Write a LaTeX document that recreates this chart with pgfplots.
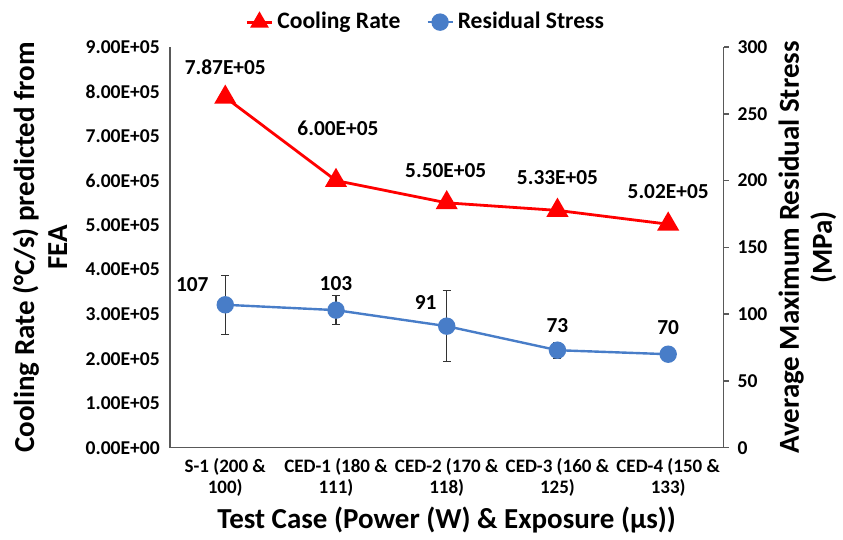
\documentclass[border=0pt]{standalone}
\usepackage{pgfplots}
\pgfplotsset{compat=1.18}
\usepackage{fontspec}
\setmainfont{Carlito}
\definecolor{stressblue}{RGB}{72,125,200}
\definecolor{axisgray}{RGB}{89,89,89}

\pgfplotstableread{
x y lbl dx dy
0 787000 7.87E+05 0.0 15.0
1 600000 6.00E+05 1.0 26.0
2 550000 5.50E+05 -0.5 16.0
3 533000 5.33E+05 0.0 16.5
4 502000 5.02E+05 0.0 16.5
}\coolingdata

\pgfplotstableread{
x y err lbl dx dy
0 107 22 107 -16.5 10.0
1 103 11 103 0.0 13.5
2 91 26.5 91 -10.5 12.0
3 73 6 73 0.0 12.5
4 70 0 70 0.0 13.5
}\stressdata

\begin{document}
\begin{tikzpicture}
\pgfplotsset{
  every axis/.append style={
    width=277pt, height=200.5pt, scale only axis,
    xmin=-0.5, xmax=4.5,
    font=\bfseries,
    tick label style={font=\fontsize{9.8}{11}\selectfont\bfseries},
    label style={font=\fontsize{14.5}{16.5}\selectfont\bfseries},
    /pgf/number format/assume math mode=true,
    axis line style={axisgray, line width=0.75pt},
  },
  shifted labels/.style={
    point meta=explicit symbolic,
    visualization depends on={\thisrow{dx} \as \dx},
    visualization depends on={\thisrow{dy} \as \dy},
    nodes near coords,
    nodes near coords style={anchor=center, text=black, font=\fontsize{10.7}{12}\selectfont\bfseries, xshift=\dx, yshift=\dy},
  },
}
\begin{axis}[
  name=main,
  axis lines*=left,
  ymin=0, ymax=900000,
  ytick={0,100000,200000,300000,400000,500000,600000,700000,800000,900000},
  yticklabels={0.00E+00,1.00E+05,2.00E+05,3.00E+05,4.00E+05,5.00E+05,6.00E+05,7.00E+05,8.00E+05,9.00E+05},
  yticklabel style={xshift=-1.5pt},
  scaled y ticks=false,
  major tick length=0pt,
  xtick={0,1,2,3,4},
  xticklabels={{S-1 (200 \&\\100)},{CED-1 (180 \&\\111)},{CED-2 (170 \&\\118)},{CED-3 (160 \&\\125)},{CED-4 (150 \&\\133)}},
  xticklabel style={align=center, font=\fontsize{9.5}{10.5}\selectfont\bfseries, yshift=-2pt},
  ylabel={Cooling Rate (°C/s) predicted from\\FEA},
  ylabel style={align=center, at={(axis description cs:-0.2347,0.5)}, anchor=center},
  xlabel={Test Case (Power (W) \& Exposure (µs))},
  xlabel style={at={(axis description cs:0.5,-0.1796)}, anchor=center},
  clip=false,
]
\addplot[red, line width=1.4pt, mark=triangle*, mark size=5pt, mark options={solid}, shifted labels]
  table[x=x, y=y, meta=lbl] {\coolingdata};
\end{axis}
\begin{axis}[
  axis y line*=right, axis x line=none,
  ymin=0, ymax=300, ytick distance=50,
  tick align=outside, major tick length=2.5pt,
  tick style={axisgray, line width=0.75pt},
  yticklabel style={xshift=1pt},
  ylabel={Average Maximum Residual Stress\\(MPa)},
  ylabel style={align=center, at={(axis description cs:1.1516,0.5)}, anchor=center, rotate=0},
  clip=false,
  legend columns=2,
  legend style={draw=none, fill=none, at={(0.464,1.062)}, anchor=center,
    font=\fontsize{11.8}{13}\selectfont\bfseries,
    inner sep=0pt,
    /tikz/every even column/.append style={column sep=11pt}},
  legend image code/.code={\draw[mark repeat=2,mark phase=2,#1] plot coordinates {(0pt,0pt)(6.25pt,0pt)(12.5pt,0pt)};},
]
\addlegendimage{red, line width=1.4pt, mark=triangle*, mark size=4pt}
\addlegendentry{Cooling Rate}
\addplot[stressblue, line width=1.2pt, mark=*, mark size=3.75pt,
  error bars/.cd, y dir=both, y explicit,
  error bar style={black!80, line width=0.6pt},
  error mark options={rotate=90, mark size=2pt, black!80, line width=0.6pt},
] table[x=x, y=y, y error=err] {\stressdata};
\addlegendentry{Residual Stress}
\addplot[draw=none, mark=none, shifted labels, forget plot]
  table[x=x, y=y, meta=lbl] {\stressdata};
\end{axis}
\path (main.south west) ++(-85pt,-42.5pt) rectangle ++(421.5pt,266.5pt);
\end{tikzpicture}
\end{document}
